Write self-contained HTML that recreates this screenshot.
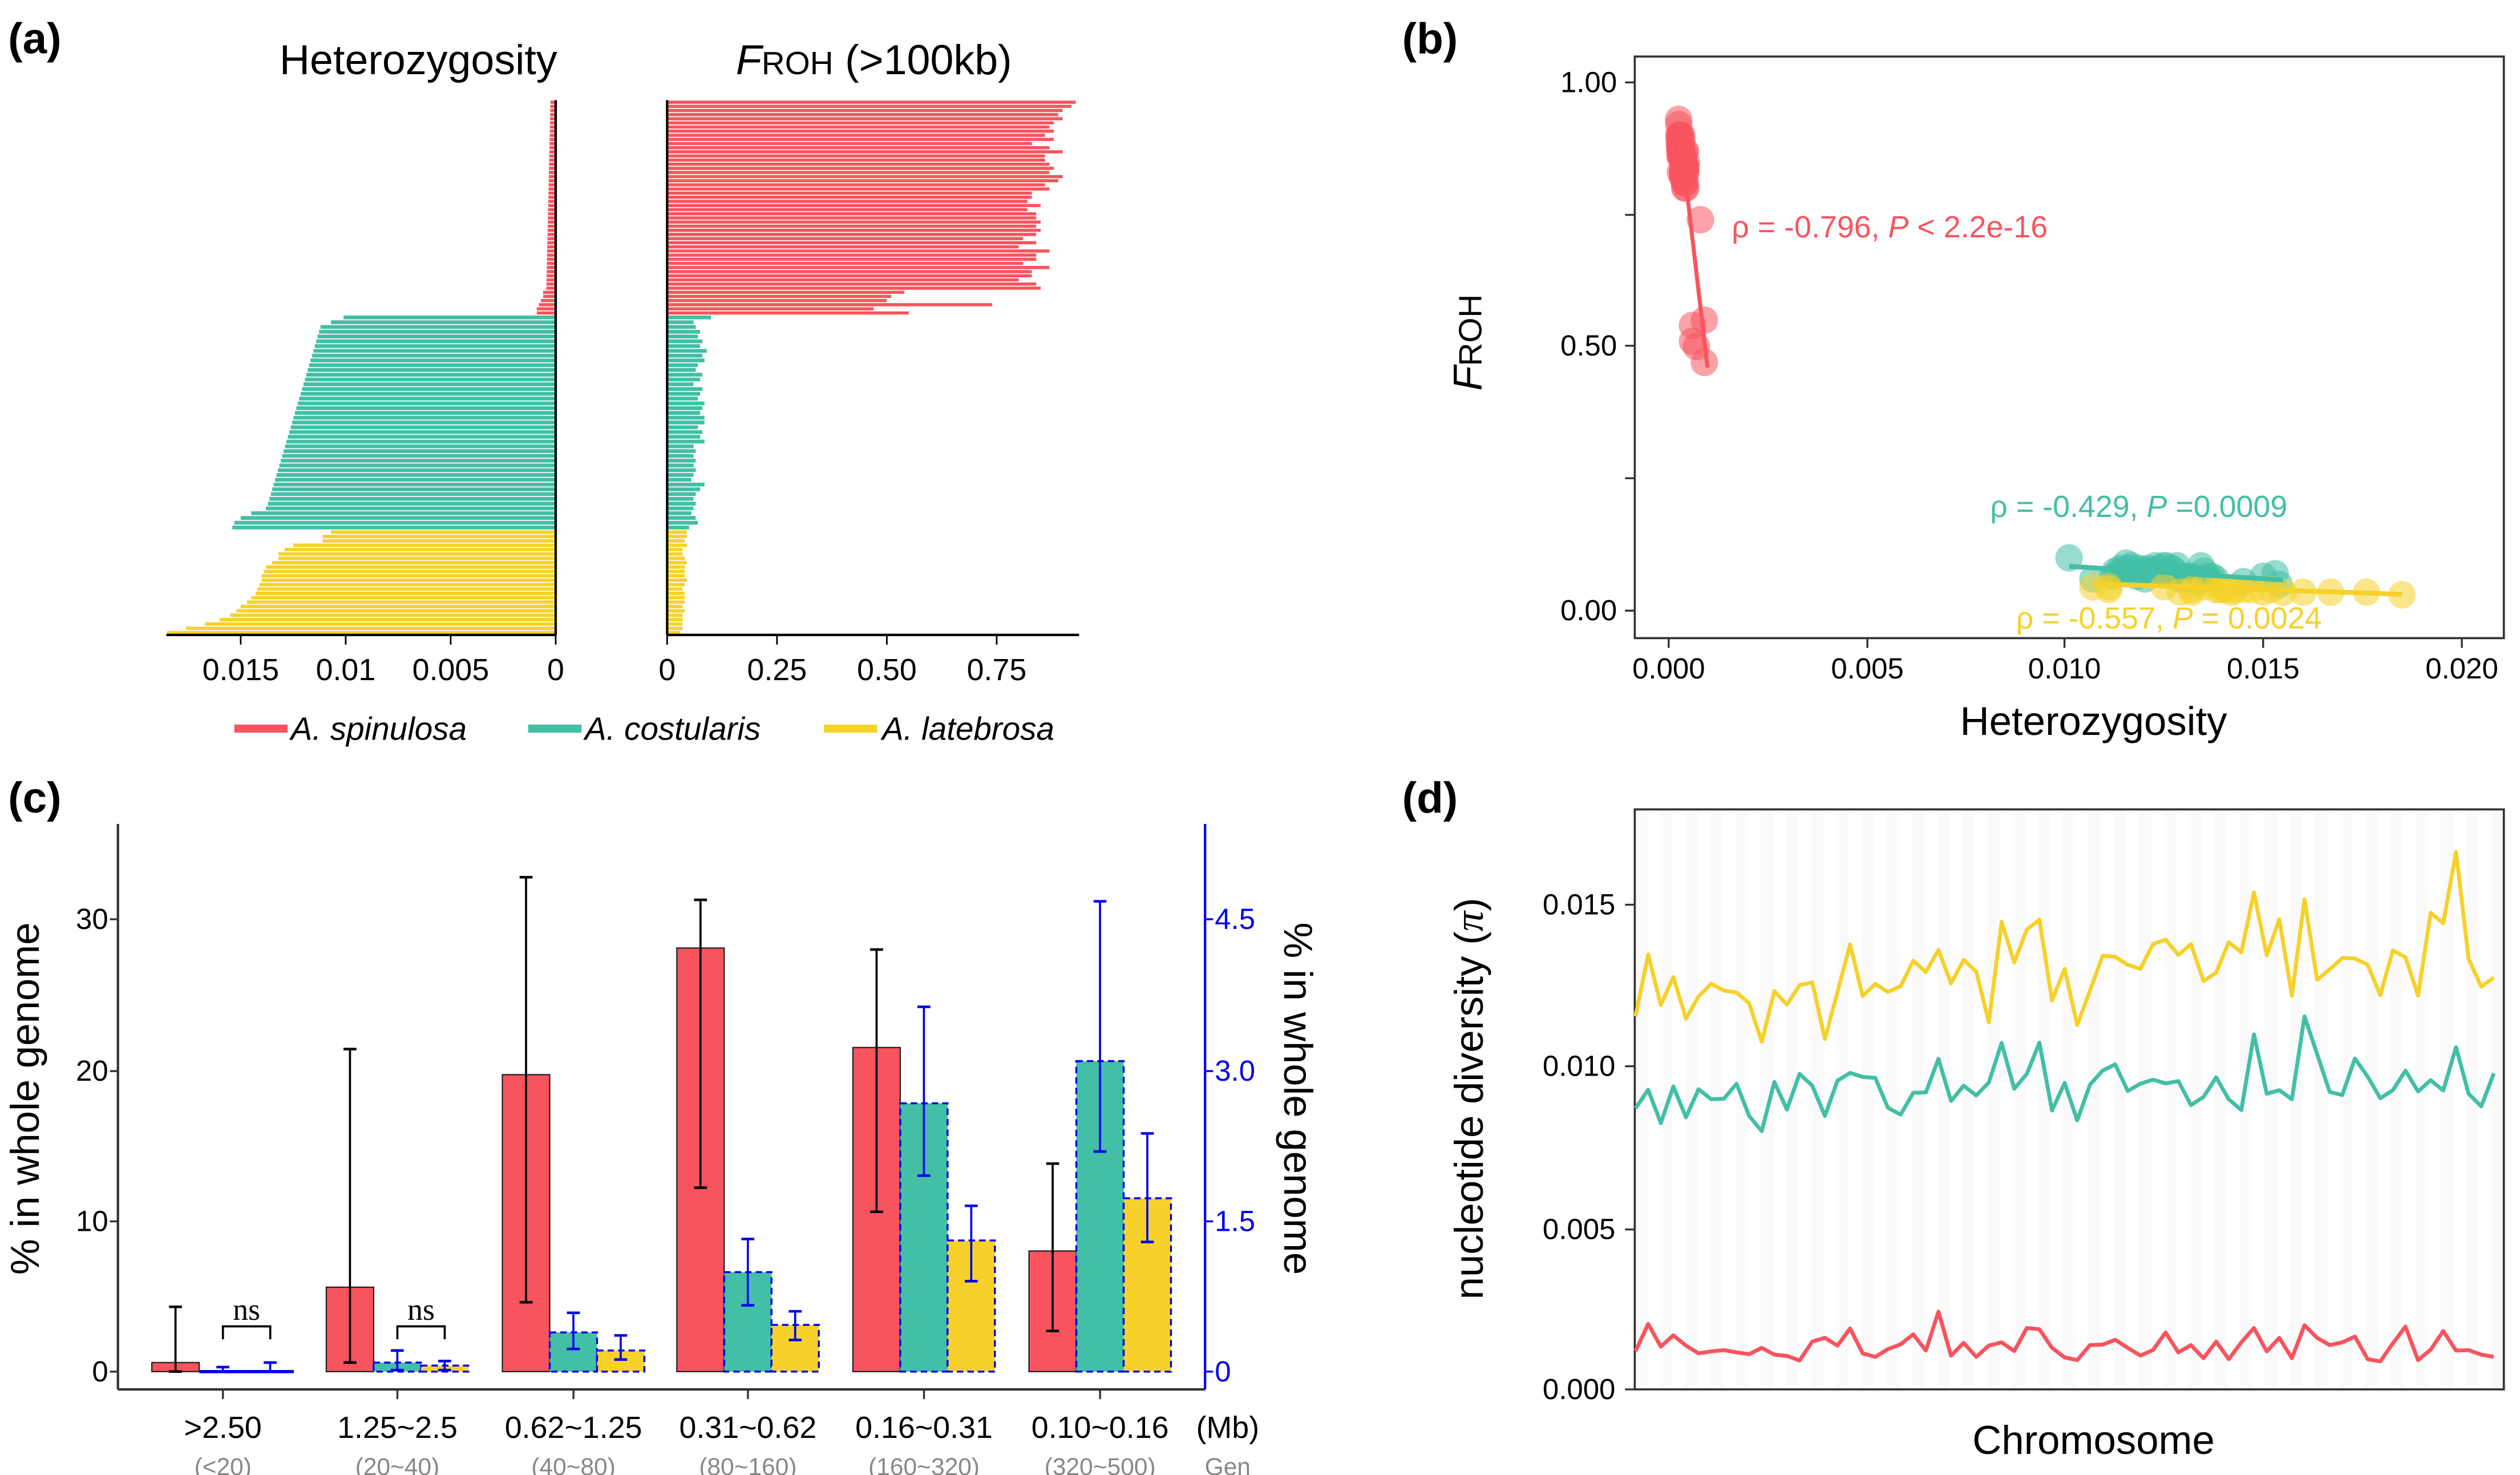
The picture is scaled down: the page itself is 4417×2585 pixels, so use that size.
<!DOCTYPE html>
<html><head><meta charset="utf-8"><style>
html,body{margin:0;padding:0;background:#fff;}
svg{display:block;font-family:"Liberation Sans",Arial,sans-serif;}
</style></head><body>
<svg id="s" xmlns="http://www.w3.org/2000/svg" width="4417" height="2585" viewBox="0 0 1560 913" preserveAspectRatio="none">
<rect width="1560" height="913" fill="#fff"/>
<g id="A"></g><g id="B"></g><g id="C"></g><g id="D"></g>
<text x="5" y="33" font-size="27" font-weight="bold">(a)</text>
<text x="868" y="33" font-size="27" font-weight="bold">(b)</text>
<text x="5" y="503" font-size="27" font-weight="bold">(c)</text>
<text x="868" y="503" font-size="27" font-weight="bold">(d)</text>
<text x="259" y="46" font-size="26" text-anchor="middle">Heterozygosity</text>
<text x="541" y="46" font-size="26" text-anchor="middle"><tspan font-style="italic">F</tspan><tspan font-size="20">ROH</tspan> (&gt;100kb)</text>
<g font-size="19" text-anchor="middle">
<text x="149" y="421">0.015</text><text x="214" y="421">0.01</text><text x="279" y="421">0.005</text><text x="344" y="421">0</text>
<text x="413" y="421">0</text><text x="481" y="421">0.25</text><text x="549" y="421">0.50</text><text x="617" y="421">0.75</text>
</g>
<g font-size="20" font-style="italic">
<line x1="145" y1="451" x2="178" y2="451" stroke="#F8545E" stroke-width="5"/><text x="180" y="458">A. spinulosa</text>
<line x1="327" y1="451" x2="360" y2="451" stroke="#42BFA5" stroke-width="5"/><text x="362" y="458">A. costularis</text>
<line x1="510" y1="451" x2="543" y2="451" stroke="#F6D12A" stroke-width="5"/><text x="546" y="458">A. latebrosa</text>
</g>
<rect x="1012" y="35" width="538" height="360" fill="none" stroke="#333" stroke-width="1.3"/>
<g font-size="18" text-anchor="end">
<text x="1001" y="57">1.00</text><text x="1001" y="220">0.50</text><text x="1001" y="384">0.00</text>
</g>
<g stroke="#333" stroke-width="1.2">
<line x1="1006" y1="51" x2="1012" y2="51"/><line x1="1006" y1="133" x2="1012" y2="133"/><line x1="1006" y1="214" x2="1012" y2="214"/><line x1="1006" y1="296" x2="1012" y2="296"/><line x1="1006" y1="378" x2="1012" y2="378"/>
<line x1="1033" y1="395" x2="1033" y2="401"/><line x1="1156" y1="395" x2="1156" y2="401"/><line x1="1278" y1="395" x2="1278" y2="401"/><line x1="1401" y1="395" x2="1401" y2="401"/><line x1="1524" y1="395" x2="1524" y2="401"/>
</g>
<g font-size="18" text-anchor="middle">
<text x="1033" y="420">0.000</text><text x="1156" y="420">0.005</text><text x="1278" y="420">0.010</text><text x="1401" y="420">0.015</text><text x="1524" y="420">0.020</text>
</g>
<text x="1296" y="455" font-size="25" text-anchor="middle">Heterozygosity</text>
<text transform="translate(917,212) rotate(-90)" font-size="25" text-anchor="middle"><tspan font-style="italic">F</tspan><tspan font-size="20">ROH</tspan></text>
<text x="1296" y="900" font-size="25" text-anchor="middle">Chromosome</text>
<text transform="translate(918,680) rotate(-90)" font-size="25" text-anchor="middle">nucleotide diversity (<tspan font-family="Liberation Serif" font-style="italic">π</tspan>)</text>
<g font-size="18" text-anchor="end">
<text x="1000" y="566">0.015</text><text x="1000" y="666">0.010</text><text x="1000" y="767">0.005</text><text x="1000" y="866">0.000</text>
</g>
<text transform="translate(24,680) rotate(-90)" font-size="25" text-anchor="middle">% in whole genome</text>
<text transform="translate(795,680) rotate(90)" font-size="25" text-anchor="middle">% in whole genome</text>
<g font-size="18" text-anchor="end">
<text x="67" y="855">0</text><text x="67" y="762">10</text><text x="67" y="669">20</text><text x="67" y="575">30</text>
</g>
<g font-size="18" fill="#0000EE">
<text x="752" y="855">0</text><text x="752" y="762">1.5</text><text x="752" y="669">3.0</text><text x="752" y="575">4.5</text>
</g>
<g font-size="19" text-anchor="middle">
<text x="138" y="890">&gt;2.50</text><text x="246" y="890">1.25~2.5</text><text x="355" y="890">0.62~1.25</text><text x="463" y="890">0.31~0.62</text><text x="572" y="890">0.16~0.31</text><text x="681" y="890">0.10~0.16</text><text x="760" y="890">(Mb)</text>
</g>
<g font-size="15" text-anchor="middle" fill="#888">
<text x="138" y="913">(&lt;20)</text><text x="246" y="913">(20~40)</text><text x="355" y="913">(40~80)</text><text x="463" y="913">(80~160)</text><text x="572" y="913">(160~320)</text><text x="681" y="913">(320~500)</text><text x="760" y="913">Gen</text>
</g>
</svg>
<script>
(function(){
var NS="http://www.w3.org/2000/svg";
function el(p,t,a){var e=document.createElementNS(NS,t);for(var k in a)e.setAttribute(k,a[k]);document.getElementById(p).appendChild(e);return e;}
var R="#F8545E",G="#42BFA5",Y="#F6D12A",BL="#0000EE";
var redF=[0.93,0.92,0.90,0.89,0.90,0.88,0.87,0.88,0.86,0.88,0.83,0.87,0.90,0.86,0.86,0.87,0.88,0.87,0.90,0.89,0.86,0.87,0.83,0.83,0.82,0.85,0.82,0.84,0.84,0.85,0.84,0.85,0.84,0.81,0.84,0.80,0.87,0.84,0.84,0.81,0.87,0.83,0.83,0.80,0.84,0.85,0.54,0.51,0.50,0.74,0.47,0.55];
var nR=redF.length,redH=[];
for(var i=0;i<nR;i++){redH.push(i<nR-6?0.00025+0.0002*i/(nR-6):[0.0006,0.0006,0.0007,0.0008,0.0009,0.0009][i-(nR-6)]);}
var gF=[0.10,0.06,0.065,0.075,0.07,0.08,0.075,0.09,0.08,0.085,0.07,0.065,0.08,0.075,0.06,0.08,0.075,0.07,0.085,0.08,0.075,0.085,0.085,0.07,0.08,0.075,0.085,0.06,0.065,0.06,0.065,0.06,0.065,0.06,0.055,0.085,0.075,0.065,0.06,0.065,0.06,0.055,0.065,0.07,0.05];
var nG=gF.length,gH=[];
for(var i=0;i<nG;i++){var v;if(i==0)v=0.0101;else if(i==1)v=0.0107;else if(i>=nG-5)v=[0.0138,0.0145,0.0150,0.0153,0.0154][i-(nG-5)];else v=0.0112+(0.0137-0.0112)*(i-2)/(nG-8);gH.push(v);}
var yH=[0.0107,0.0111,0.0111,0.0125,0.0129,0.0132,0.0132,0.0135,0.0138,0.0139,0.0140,0.0140,0.0141,0.0142,0.0143,0.0145,0.0147,0.0150,0.0152,0.0155,0.0160,0.0167,0.0176,0.0185];
var yF=[0.045,0.045,0.04,0.045,0.035,0.035,0.04,0.045,0.04,0.04,0.04,0.045,0.04,0.035,0.04,0.04,0.04,0.035,0.04,0.035,0.035,0.035,0.035,0.03];
function grp(H,F,y0,y1,c){var n=H.length,h=(y1-y0)/n;for(var i=0;i<n;i++){var y=y0+i*h;
el("A","rect",{x:344-H[i]*13000,y:y+0.3,width:H[i]*13000,height:h-0.6,fill:c});
el("A","rect",{x:413,y:y+0.3,width:F[i]*272,height:h-0.6,fill:c});}}
grp(redH,redF,62,195,R);grp(gH,gF,195,328,G);grp(yH,yF,328,393,Y);
el("A","line",{x1:344,y1:62,x2:344,y2:393,stroke:"#000","stroke-width":1.5});
el("A","line",{x1:413,y1:62,x2:413,y2:393,stroke:"#000","stroke-width":1.5});
el("A","line",{x1:103,y1:393,x2:344,y2:393,stroke:"#000","stroke-width":1.5});
el("A","line",{x1:413,y1:393,x2:668,y2:393,stroke:"#000","stroke-width":1.5});
[149,214,279,344,413,481,549,617].forEach(function(x){el("A","line",{x1:x,y1:393,x2:x,y2:399,stroke:"#000","stroke-width":1});});
function bx(h){return 1033+h*24540;}function by(f){return 378-f*327;}
function pts(H,F,c){for(var i=0;i<H.length;i++)el("B","circle",{cx:bx(H[i]),cy:by(F[i]),r:8.5,fill:c,"fill-opacity":0.55});}
pts(redH,redF,R);pts(gH,gF,G);pts(yH,yF,Y);
el("B","line",{x1:bx(0.00045),y1:by(0.80),x2:bx(0.00098),y2:by(0.46),stroke:R,"stroke-width":2.5});
el("B","line",{x1:bx(0.0101),y1:by(0.084),x2:bx(0.0155),y2:by(0.058),stroke:G,"stroke-width":3});
el("B","line",{x1:bx(0.0107),y1:by(0.051),x2:bx(0.0185),y2:by(0.031),stroke:Y,"stroke-width":3});
function tx(x,y,c,a,b){var t=el("B","text",{x:x,y:y,fill:c,"font-size":19});t.innerHTML=a+'<tspan font-style="italic">P</tspan>'+b;}
tx(1072,147,R,"ρ = -0.796, "," &lt; 2.2e-16");
tx(1232,320,G,"ρ = -0.429, "," =0.0009");
tx(1248,389,Y,"ρ = -0.557, "," = 0.0024");
el("C","line",{x1:73,y1:510,x2:73,y2:860,stroke:"#333","stroke-width":1.5});
el("C","line",{x1:73,y1:860,x2:746,y2:860,stroke:"#333","stroke-width":1.5});
el("C","line",{x1:746,y1:510,x2:746,y2:860,stroke:BL,"stroke-width":1.5});
[849,756,663,569].forEach(function(y){el("C","line",{x1:68,y1:y,x2:73,y2:y,stroke:"#333","stroke-width":1.2});el("C","line",{x1:746,y1:y,x2:751,y2:y,stroke:BL,"stroke-width":1.2});});
var ticks=[138,246,355,463,572,681];
ticks.forEach(function(x){el("C","line",{x1:x,y1:860,x2:x,y2:866,stroke:"#333","stroke-width":1.2});});
function cy(v){return 849-v*9.33;}
var DD=[[[0.6,0,4.3],[0.1,0,0.3],[0.1,0,0.6]],[[5.6,0.6,21.4],[0.6,0.1,1.4],[0.4,0.1,0.7]],[[19.7,4.6,32.8],[2.6,1.5,3.9],[1.4,0.8,2.4]],[[28.1,12.2,31.3],[6.6,4.4,8.8],[3.1,2.1,4.0]],[[21.5,10.6,28.0],[17.8,13.0,24.2],[8.7,6.0,11.0]],[[8.0,2.7,13.8],[20.6,14.6,31.2],[11.5,8.6,15.8]]];
var cols=[R,G,Y];
for(var g=0;g<6;g++){for(var b=0;b<3;b++){var d=DD[g][b],x0=ticks[g]-44+b*29.3,w=29.3,xc=x0+w/2;
var ty=cy(d[0]);
if(g==0&&b>0){el("C","line",{x1:x0,y1:849,x2:x0+w,y2:849,stroke:BL,"stroke-width":2});}
else if(b==0) el("C","rect",{x:x0,y:ty,width:w,height:849-ty,fill:cols[b],stroke:"#222","stroke-width":0.8});
else el("C","rect",{x:x0,y:ty,width:w,height:849-ty,fill:cols[b],stroke:BL,"stroke-width":1.2,"stroke-dasharray":"4,2.5"});
var ec=b==0?"#000":BL;
el("C","line",{x1:xc,y1:cy(d[1]),x2:xc,y2:cy(d[2]),stroke:ec,"stroke-width":1.3});
el("C","line",{x1:xc-4,y1:cy(d[1]),x2:xc+4,y2:cy(d[1]),stroke:ec,"stroke-width":1.6});
el("C","line",{x1:xc-4,y1:cy(d[2]),x2:xc+4,y2:cy(d[2]),stroke:ec,"stroke-width":1.6});}}
[0,1].forEach(function(g){var x1=ticks[g],x2=ticks[g]+29.3;
el("C","path",{d:"M"+x1+" 829 V821 H"+x2+" V829",fill:"none",stroke:"#000","stroke-width":1.3});
var t=el("C","text",{x:(x1+x2)/2,y:817,"font-size":19,"text-anchor":"middle","font-family":"Liberation Serif"});t.textContent="ns";});
var X0=1012,X1=1550,T=501,Bm=860;
for(var i=0;i<69;i++){var w2=(X1-X0)/69;if(i%2==0)el("D","rect",{x:X0+i*w2,y:T,width:w2,height:Bm-T,fill:"#fafafa"});}
el("D","rect",{x:X0,y:T,width:X1-X0,height:Bm-T,fill:"none",stroke:"#333","stroke-width":1.3});
[560,660,761,860].forEach(function(y){el("D","line",{x1:1006,y1:y,x2:X0,y2:y,stroke:"#333","stroke-width":1.2});});
var yl=[537,400,512,450,542,493,465,480,484,508,593,481,511,468,462,587,483,378,492,465,483,470,414,439,390,464,412,438,550,328,418,345,323,502,432,556,480,403,405,423,432,377,367,401,377,459,440,373,395,263,402,322,491,278,456,433,408,409,423,490,391,406,491,308,331,173,410,471,451];
var gl=[740,699,773,692,760,698,720,719,686,757,791,682,743,664,690,757,679,662,671,673,739,754,706,705,631,724,690,712,683,596,697,664,595,745,684,767,688,657,643,702,686,677,685,680,733,715,672,720,744,577,708,700,720,537,620,704,711,630,670,718,700,657,703,678,701,605,708,736,663];
var rl=[1277,1217,1267,1242,1265,1282,1278,1275,1280,1284,1270,1285,1288,1298,1256,1248,1265,1227,1282,1290,1273,1262,1240,1276,1190,1287,1259,1290,1265,1258,1277,1226,1229,1270,1291,1297,1264,1263,1252,1270,1287,1275,1236,1280,1264,1293,1256,1295,1258,1226,1278,1248,1293,1220,1248,1264,1258,1245,1295,1300,1260,1223,1297,1274,1233,1276,1275,1285,1290];
function ln(a,c){var s="";for(var i=0;i<a.length;i++){var zx=298+18*i;s+=(i?"L":"M")+(883.1+zx*0.4341).toFixed(1)+" "+(560+(a[i]-290)*0.2799).toFixed(1);}el("D","path",{d:s,fill:"none",stroke:c,"stroke-width":2.4,"stroke-linejoin":"round"});}
ln(yl,Y);ln(gl,G);ln(rl,R);
})();
</script>
</body></html>
